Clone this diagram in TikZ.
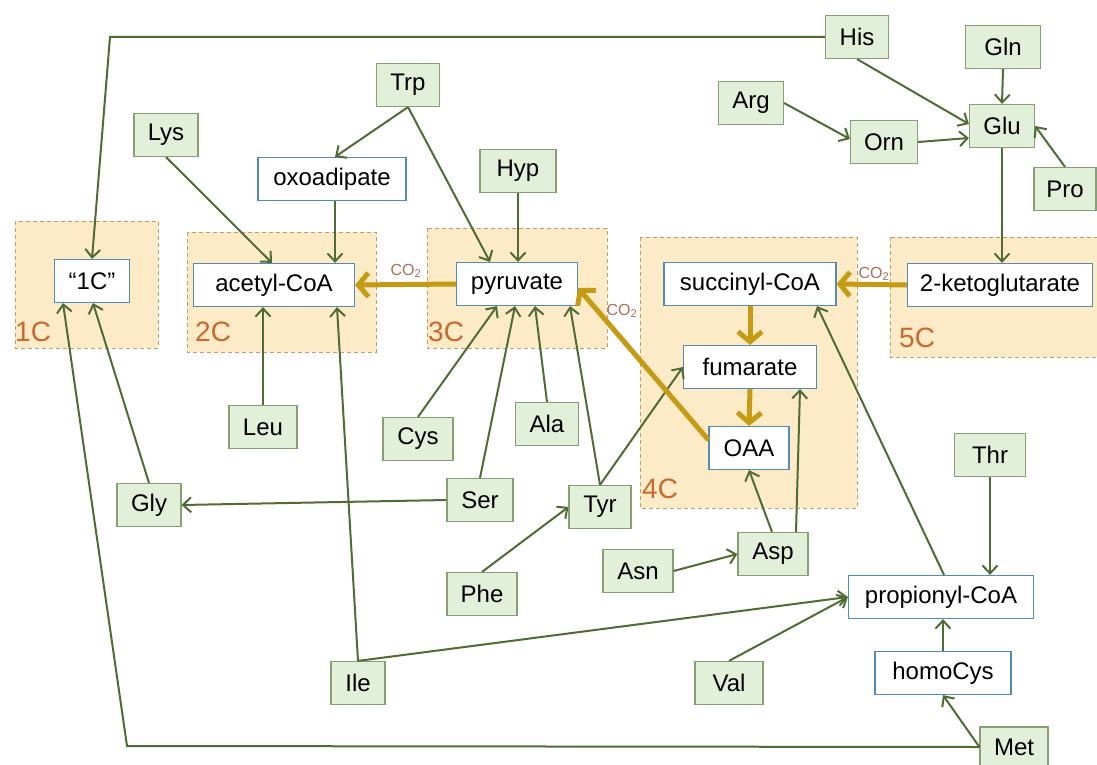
\documentclass[tikz,border=0pt]{standalone}
\usepackage{fontspec}
\setmainfont{Liberation Sans}
\usetikzlibrary{arrows.meta}
\definecolor{gfill}{RGB}{226,239,217}
\definecolor{gborder}{RGB}{135,160,115}
\definecolor{wborder}{RGB}{80,140,180}
\definecolor{regfill}{RGB}{253,235,200}
\definecolor{regborder}{RGB}{185,160,105}
\definecolor{arr}{RGB}{80,108,52}
\definecolor{gold}{RGB}{197,155,20}
\definecolor{lbl}{RGB}{200,105,45}
\definecolor{colbl}{RGB}{170,110,90}
\begin{document}
\begin{tikzpicture}[x=1pt,y=-1pt,
  aa/.style={draw=gborder,fill=gfill,line width=1.2pt,minimum height=43pt,inner sep=0pt,font=\fontsize{24}{27}\selectfont},
  mm/.style={draw=wborder,fill=white,line width=1.2pt,minimum height=43pt,inner sep=0pt,font=\fontsize{24}{27}\selectfont},
  region/.style={draw=regborder,fill=regfill,line width=1pt,dash pattern=on 4pt off 3pt},
  rlbl/.style={text=lbl,font=\fontsize{28}{30}\selectfont,inner sep=0pt,anchor=base west},
  colabel/.style={text=colbl,font=\fontsize{16}{18}\selectfont,inner sep=0pt},
  ar/.style={draw=arr,line width=2pt,-{Straight Barb[length=8pt,width=15pt]}},
  gar/.style={draw=gold,line width=5pt,-{Straight Barb[length=10pt,width=24pt]}}
]
\useasboundingbox (0,0) rectangle (1097,765);
\fill[white] (0,0) rectangle (1097,765);

% regions
\path[region] (15,221) rectangle (158,348);
\path[region] (187,232) rectangle (376,352);
\path[region] (427,228) rectangle (607,348);
\path[region] (640,237) rectangle (857,508);
\path[region] (890,237) rectangle (1105,357);
\node[rlbl] (l1) at (15,341) {1C};
\node[rlbl] (l2) at (195,341) {2C};
\node[rlbl] (l3) at (428,341) {3C};
\node[rlbl] (l4) at (642,498) {4C};
\node[rlbl] (l5) at (899,347) {5C};

% metabolites
\node[mm,minimum width=75pt] (one) at (92,281) {“1C”};
\node[mm,minimum width=161pt] (acetyl) at (274,285) {acetyl-CoA};
\node[mm,minimum width=148pt] (oxo) at (332,179) {oxoadipate};
\node[mm,minimum width=121pt] (pyr) at (517,284) {pyruvate};
\node[mm,minimum width=172pt] (succ) at (750,284) {succinyl-CoA};
\node[mm,minimum width=133pt] (fum) at (750,367) {fumarate};
\node[mm,minimum width=80pt] (OAA) at (749,448) {OAA};
\node[mm,minimum width=185pt] (keto) at (1000,285) {2-ketoglutarate};
\node[mm,minimum width=185pt] (prop) at (941,597) {propionyl-CoA};
\node[mm,minimum width=136pt] (homo) at (943,673) {homoCys};

% amino acids
\node[aa,minimum width=63pt] (His) at (857,37) {His};
\node[aa,minimum width=75pt] (Gln) at (1003,47) {Gln};
\node[aa,minimum width=65pt] (Arg) at (751,103) {Arg};
\node[aa,minimum width=67pt] (Orn) at (884,142) {Orn};
\node[aa,minimum width=65pt] (Glu) at (1002,126) {Glu};
\node[aa,minimum width=62pt] (Pro) at (1065,189) {Pro};
\node[aa,minimum width=63pt] (Trp) at (408,85) {Trp};
\node[aa,minimum width=64pt] (Lys) at (166,135) {Lys};
\node[aa,minimum width=76pt] (Hyp) at (518,171) {Hyp};
\node[aa,minimum width=68pt] (Leu) at (263,427) {Leu};
\node[aa,minimum width=70pt] (Cys) at (418,439) {Cys};
\node[aa,minimum width=63pt] (Ala) at (547,424) {Ala};
\node[aa,minimum width=66pt] (Ser) at (480,500) {Ser};
\node[aa,minimum width=62pt] (Tyr) at (600,507) {Tyr};
\node[aa,minimum width=64pt] (Gly) at (149,505) {Gly};
\node[aa,minimum width=70pt] (Phe) at (482,594) {Phe};
\node[aa,minimum width=54pt] (Ile) at (358,683) {Ile};
\node[aa,minimum width=70pt] (Asn) at (638,571) {Asn};
\node[aa,minimum width=70pt] (Asp) at (773,554) {Asp};
\node[aa,minimum width=71pt] (Thr) at (990,455) {Thr};
\node[aa,minimum width=68pt] (Val) at (729,683) {Val};
\node[aa,minimum width=68pt,minimum height=40pt] (Met) at (1014,747) {Met};

\coordinate (c1) at (110,37);
\coordinate (c2) at (127,746);

% green connectors
\draw[ar] (His.west) -- (c1) -- (one.north);
\draw[ar] (His.south) -- ([yshift=2pt]Glu.west);
\draw[ar] (Gln.south) -- (Glu.north);
\draw[ar] (Arg.east) -- ([yshift=3pt]Orn.west);
\draw[ar] (Orn.east) -- ([yshift=-12pt]Glu.west);
\draw[ar] (Pro.north) -- (Glu.east);
\draw[ar] (Glu.south) -- (Glu.south |- keto.north);
\draw[ar] (Trp.south) -- ([xshift=3pt]oxo.north);
\draw[ar] (Trp.south) -- ([xshift=-27pt]pyr.north);
\draw[ar] (Lys.south) -- ([xshift=-2pt]acetyl.north);
\draw[ar] ([xshift=3pt]oxo.south) -- ([xshift=3pt]oxo.south |- acetyl.north);
\draw[ar] (Hyp.south) -- (Hyp.south |- pyr.north);
\draw[ar] (Leu.north) -- (Leu.north |- acetyl.south);
\draw[ar] (Ile.north) -- ([xshift=63pt]acetyl.south);
\draw[ar] (Ile.north) -- (prop.west);
\draw[ar] (Gly.north) -- ([xshift=1pt]one.south);
\draw[ar] (Met.west) -- (c2) -- ([xshift=-29pt]one.south);
\draw[ar] (Ser.west) -- (Gly.east);
\draw[ar] (Ser.north) -- ([xshift=-2pt]pyr.south);
\draw[ar] (Cys.north) -- ([xshift=-20pt]pyr.south);
\draw[ar] (Ala.north) -- ([xshift=18pt]pyr.south);
\draw[ar] (Tyr.north) -- ([xshift=53pt]pyr.south);
\draw[ar] (Tyr.north) -- (fum.west);
\draw[ar] (Phe.north) -- (Tyr.west);
\draw[ar] (Asn.east) -- (Asp.west);
\draw[ar] ([xshift=-1pt]Asp.north) -- (OAA.south);
\draw[ar] ([xshift=23pt]Asp.north) -- ([xshift=50pt]fum.south);
\draw[ar] ([xshift=3pt]prop.north) -- ([xshift=67pt]succ.south);
\draw[ar] (Thr.south) -- (Thr.south |- prop.north);
\draw[ar] (Val.north) -- (prop.west);
\draw[ar] (homo.north) -- (homo.north |- prop.south);
\draw[ar] (Met.west) -- (homo.south);

% gold carbon flow
\draw[gar] (pyr.west) -- (acetyl.east);
\draw[gar] (keto.west) -- (succ.east);
\draw[gar] ([yshift=8pt]OAA.west) -- ([yshift=-4pt]pyr.east);
\draw[gar] (succ.south) -- (fum.north);
\draw[gar] (fum.south) -- (OAA.north);

% CO2 labels
\node[colabel] (co1) at (406,271) {CO\textsubscript{2}};
\node[colabel] (co2) at (874,274) {CO\textsubscript{2}};
\node[colabel] (co3) at (622,311) {CO\textsubscript{2}};
\end{tikzpicture}
\end{document}
